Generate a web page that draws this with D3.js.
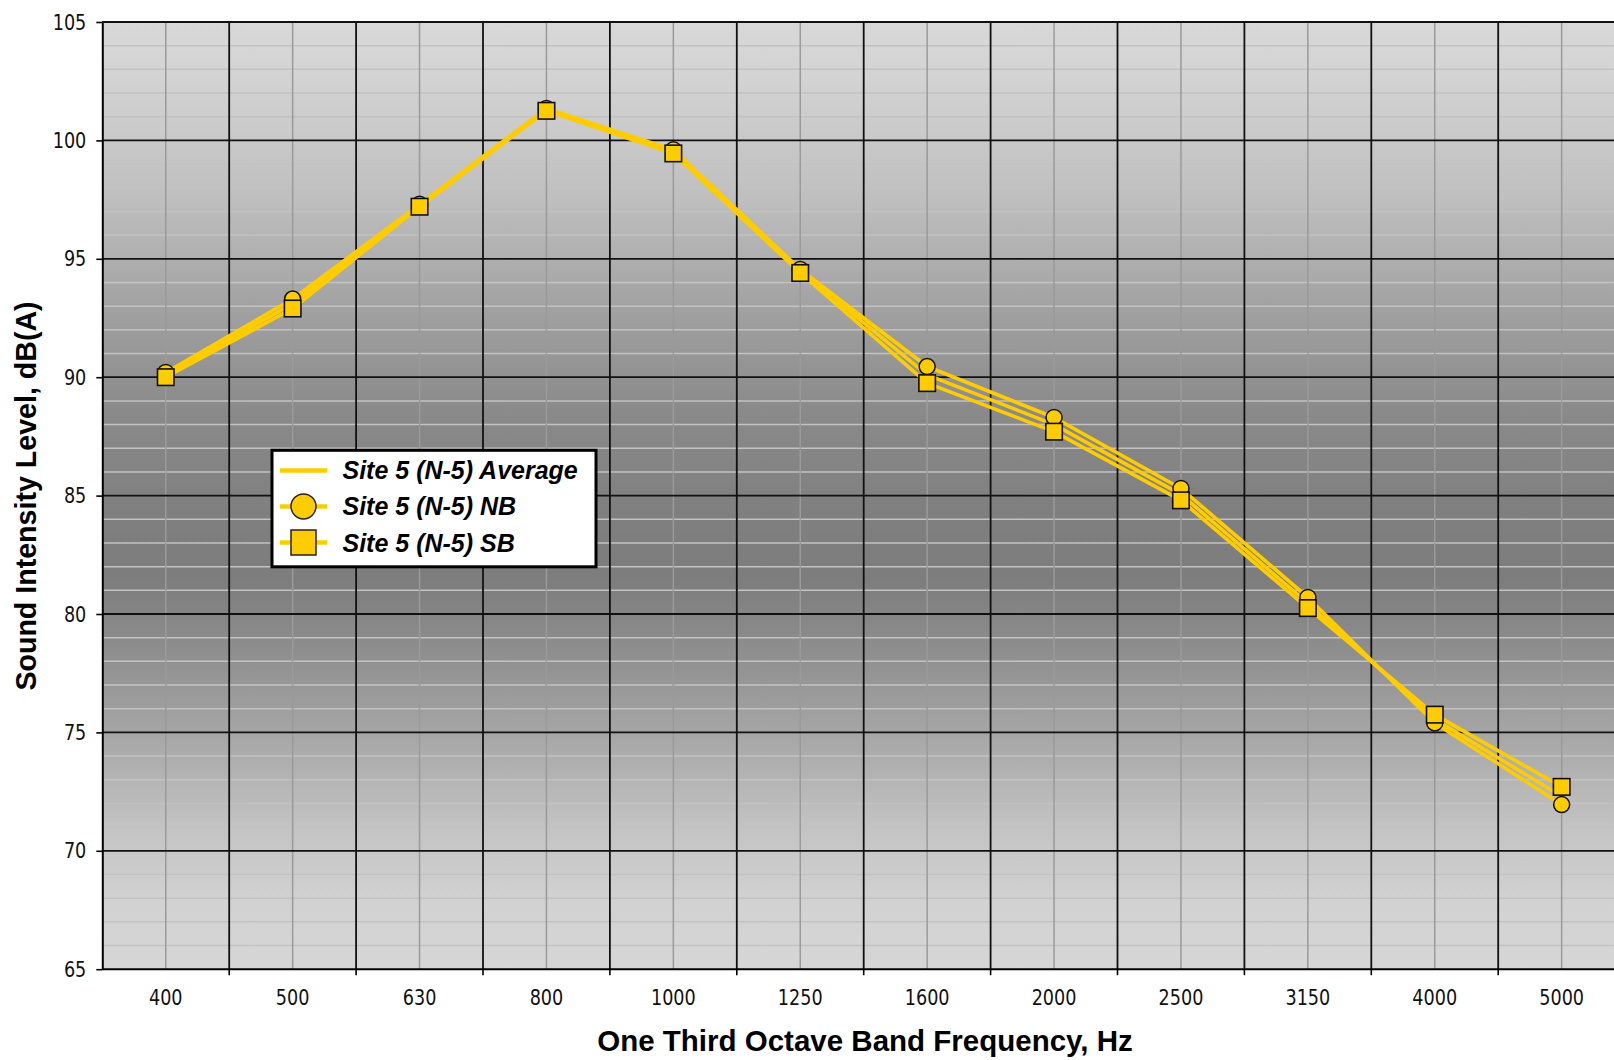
<!DOCTYPE html>
<html>
<head>
<meta charset="utf-8">
<script src="https://cdn.jsdelivr.net/npm/d3@7"></script>
<style>
  html, body { margin: 0; padding: 0; background: #ffffff; }
  svg { display: block; }
  .tick-label { font-family: "Liberation Sans Narrow", "DejaVu Sans Condensed", "Liberation Sans", sans-serif; font-size: 22px; fill: #111; }
  .axis-title { font-family: "Liberation Sans", Arial, sans-serif; font-weight: bold; fill: #000; }
  .legend-text { font-family: "Liberation Sans", Arial, sans-serif; font-weight: bold; font-style: italic; font-size: 25px; fill: #000; }
</style>
</head>
<body>
<svg id="chart" width="1614" height="1060"></svg>
<script>
// ---- Data ----
const categories = ["400", "500", "630", "800", "1000", "1250", "1600", "2000", "2500", "3150", "4000", "5000"];
const averageValues = [90.1, 93.1, 97.25, 101.3, 99.5, 94.5, 90.1, 88.0, 85.05, 80.45, 75.55, 72.3];
const nbValues      = [90.2, 93.3, 97.3, 101.35, 99.6, 94.55, 90.45, 88.3, 85.3, 80.7, 75.4, 71.95];
const sbValues      = [90.0, 92.9, 97.2, 101.25, 99.45, 94.4, 89.75, 87.7, 84.8, 80.25, 75.75, 72.7];
const yTicks = [65, 70, 75, 80, 85, 90, 95, 100, 105];
const seriesNames = ["Site 5 (N-5) Average", "Site 5 (N-5) NB", "Site 5 (N-5) SB"];
const xTitle = "One Third Octave Band Frequency, Hz";
const yTitle = "Sound Intensity Level, dB(A)";

// ---- Layout ----
const plotLeft = 102.3, plotTop = 22, plotBottom = 969.2;
const bandW = 126.9;
const plotRight = plotLeft + bandW * categories.length;
const W = 1614, H = 1060;
const yellow = "#FFCC00";
const digitW = 11.2; // narrow digit advance used to condense tick labels

const svg = d3.select("#chart");

const x = d3.scaleBand().domain(categories).range([plotLeft, plotRight]).padding(0);
const y = d3.scaleLinear().domain([65, 105]).range([plotBottom, plotTop]);
const xc = d => x(d) + x.bandwidth() / 2;

const defs = svg.append("defs");
defs.append("clipPath").attr("id", "plotClip")
  .append("rect").attr("x", plotLeft).attr("y", plotTop - 2)
  .attr("width", plotRight - plotLeft).attr("height", plotBottom - plotTop + 4);

const grad = defs.append("linearGradient").attr("id", "bgGrad")
  .attr("x1", 0).attr("y1", 0).attr("x2", 0).attr("y2", 1);
[[0, "#d8d8d8"], [0.06, "#d3d3d3"], [0.19, "#bebebe"], [0.30, "#a2a2a2"], [0.41, "#8a8a8a"],
 [0.52, "#7f7f7f"], [0.59, "#7d7d7d"], [0.68, "#929292"], [0.77, "#ababab"], [0.85, "#c3c3c3"],
 [0.93, "#d2d2d2"], [1, "#d6d6d6"]].forEach(([o, c]) => grad.append("stop").attr("offset", o).attr("stop-color", c));

const plot = svg.append("g").attr("clip-path", "url(#plotClip)");

plot.append("rect")
  .attr("x", plotLeft).attr("y", plotTop)
  .attr("width", plotRight - plotLeft).attr("height", plotBottom - plotTop)
  .attr("fill", "url(#bgGrad)");

// Minor horizontal gridlines (every 1 dB)
const minorVals = d3.range(66, 105).filter(v => v % 5 !== 0);
plot.append("g").selectAll("line").data(minorVals).join("line")
  .attr("x1", plotLeft).attr("x2", plotRight)
  .attr("y1", d => y(d)).attr("y2", d => y(d))
  .attr("stroke", "#c2c2c2").attr("stroke-width", 1.5);

// Gray vertical gridlines at category centers
plot.append("g").selectAll("line").data(categories).join("line")
  .attr("x1", d => xc(d)).attr("x2", d => xc(d))
  .attr("y1", plotTop).attr("y2", plotBottom)
  .attr("stroke", "#9a9a9a").attr("stroke-width", 1.5);

// Major horizontal gridlines
plot.append("g").selectAll("line").data(yTicks.filter(v => v > 65)).join("line")
  .attr("x1", plotLeft).attr("x2", plotRight)
  .attr("y1", d => y(d)).attr("y2", d => y(d))
  .attr("stroke", "#111").attr("stroke-width", 1.8);

// Major vertical gridlines at category boundaries
plot.append("g").selectAll("line").data(categories.slice(1)).join("line")
  .attr("x1", d => x(d)).attr("x2", d => x(d))
  .attr("y1", plotTop).attr("y2", plotBottom)
  .attr("stroke", "#111").attr("stroke-width", 1.8);

// ---- Series lines ----
const line = d3.line().x((d, i) => xc(categories[i])).y(d => y(d));
const lineG = plot.append("g");
[averageValues, nbValues, sbValues].forEach(vals => {
  lineG.append("path").datum(vals)
    .attr("d", line).attr("fill", "none")
    .attr("stroke", yellow).attr("stroke-width", 3.6)
    .attr("stroke-linejoin", "round");
});

// NB circles
plot.append("g").selectAll("circle").data(nbValues).join("circle")
  .attr("cx", (d, i) => xc(categories[i])).attr("cy", d => y(d))
  .attr("r", 8).attr("fill", yellow).attr("stroke", "#111").attr("stroke-width", 1.5);

// SB squares
const sq = 16.5;
plot.append("g").selectAll("rect").data(sbValues).join("rect")
  .attr("x", (d, i) => xc(categories[i]) - sq / 2).attr("y", d => y(d) - sq / 2)
  .attr("width", sq).attr("height", sq)
  .attr("fill", yellow).attr("stroke", "#111").attr("stroke-width", 1.6);

// ---- Axes ----
function styleTickText(sel) {
  sel.attr("class", "tick-label").attr("font-family", null).attr("font-size", null).attr("fill", null)
    .attr("lengthAdjust", "spacingAndGlyphs")
    .attr("textLength", function () { return this.textContent.length * digitW; });
}

const yAxis = d3.axisLeft(y).tickValues(yTicks).tickSizeInner(6).tickSizeOuter(0).tickPadding(10);
const yG = svg.append("g").attr("transform", `translate(${plotLeft},0)`).call(yAxis);
yG.select(".domain").attr("stroke", "#000").attr("stroke-width", 2);
yG.selectAll(".tick line").attr("stroke", "#000").attr("stroke-width", 1.6);
yG.selectAll(".tick text").call(styleTickText);

const xAxis = d3.axisBottom(x).tickSize(0).tickPadding(20);
const xG = svg.append("g").attr("transform", `translate(0,${plotBottom})`).call(xAxis);
xG.select(".domain").remove();
xG.selectAll(".tick text").call(styleTickText);

// bottom axis line
svg.append("line").attr("x1", plotLeft).attr("x2", W).attr("y1", plotBottom).attr("y2", plotBottom)
  .attr("stroke", "#000").attr("stroke-width", 2);
// top border line
svg.append("line").attr("x1", plotLeft).attr("x2", W).attr("y1", plotTop).attr("y2", plotTop)
  .attr("stroke", "#111").attr("stroke-width", 1.8);

// tick marks at category boundaries
svg.append("g").selectAll("line").data(categories.slice(1)).join("line")
  .attr("x1", d => x(d)).attr("x2", d => x(d))
  .attr("y1", plotBottom).attr("y2", plotBottom + 6)
  .attr("stroke", "#000").attr("stroke-width", 1.6);

// Axis titles
svg.append("text").attr("class", "axis-title").attr("font-size", 29.5)
  .attr("x", 865).attr("y", 1051).attr("text-anchor", "middle").text(xTitle);
svg.append("text").attr("class", "axis-title").attr("font-size", 28.6)
  .attr("transform", "translate(36,496) rotate(-90)").attr("text-anchor", "middle").text(yTitle);

// ---- Legend ----
const lg = svg.append("g");
lg.append("rect").attr("x", 272).attr("y", 450.3).attr("width", 324).attr("height", 116.5)
  .attr("fill", "#fff").attr("stroke", "#000").attr("stroke-width", 3);
const rowsY = [470.4, 506.4, 542.5];
seriesNames.forEach((name, i) => {
  const ry = rowsY[i];
  lg.append("line").attr("x1", 280).attr("x2", 327).attr("y1", ry).attr("y2", ry)
    .attr("stroke", yellow).attr("stroke-width", 4.5);
  if (i === 1) {
    lg.append("circle").attr("cx", 303.5).attr("cy", ry).attr("r", 12.5)
      .attr("fill", yellow).attr("stroke", "#222").attr("stroke-width", 1.5);
  } else if (i === 2) {
    lg.append("rect").attr("x", 291).attr("y", ry - 12.5).attr("width", 25).attr("height", 25)
      .attr("fill", yellow).attr("stroke", "#222").attr("stroke-width", 1.5);
  }
  lg.append("text").attr("class", "legend-text").attr("x", 342.5).attr("y", ry + 9).text(name);
});
</script>
</body>
</html>
